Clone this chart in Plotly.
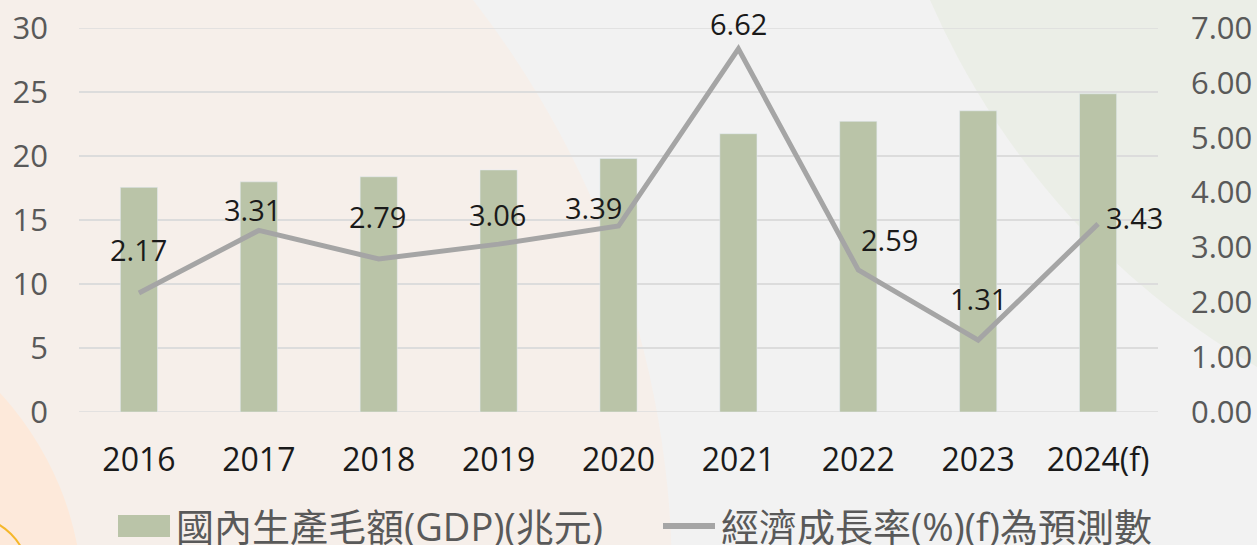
import plotly.graph_objects as go

# ---- data ----
years = ["2016", "2017", "2018", "2019", "2020", "2021", "2022", "2023", "2024(f)"]
gdp = [17.55, 17.98, 18.38, 18.91, 19.80, 21.74, 22.71, 23.53, 24.86]
growth = [2.17, 3.31, 2.79, 3.06, 3.39, 6.62, 2.59, 1.31, 3.43]
growth_labels = ["2.17", "3.31", "2.79", "3.06", "3.39", "6.62", "2.59", "1.31", "3.43"]
left_ticks = [0, 5, 10, 15, 20, 25, 30]
right_ticks = [0, 1, 2, 3, 4, 5, 6, 7]
bar_name = "國內生產毛額(GDP)(兆元)"
line_name = "經濟成長率(%)(f)為預測數"

# ---- style ----
W, H = 1257, 545
ML, MR, MT, MB = 79, 99, 28, 133
PW, PH = W - ML - MR, H - MT - MB
FONT = "Open Sans, Noto Sans CJK TC, sans-serif"
BAR_COLOR = "#BAC4A8"
LINE_COLOR = "#A5A5A5"
GRID_COLOR = "#DCDCDC"
label_dx = [0, -6, -1, -1, -25, 0, 31, 0, 36]
label_dy = [43, 21, 42, 30, 19, 25, 30, 42, 6]


def px(x):
    return (x - ML) / PW


def py(y):
    return (H - MB - y) / PH


def circle(cx, cy, r, fill=None, line=None, lw=0):
    return dict(type="circle", xref="paper", yref="paper", layer="below",
                x0=px(cx - r), x1=px(cx + r), y0=py(cy + r), y1=py(cy - r),
                fillcolor=fill if fill else "rgba(0,0,0,0)",
                line=dict(color=line if line else "rgba(0,0,0,0)", width=lw))


fig = go.Figure()
fig.add_trace(go.Bar(x=years, y=gdp, name=bar_name, marker_color=BAR_COLOR,
                     width=0.31, yaxis="y", showlegend=False))
fig.add_trace(go.Scatter(x=years, y=growth, name=line_name, mode="lines",
                         line=dict(color=LINE_COLOR, width=5), yaxis="y2",
                         showlegend=False))

annotations = []
for i, v in enumerate(growth):
    annotations.append(dict(x=i, y=v, xref="x", yref="y2", text=growth_labels[i],
                            showarrow=False, xshift=label_dx[i], yshift=label_dy[i],
                            font=dict(family=FONT, size=29, color="#1A1A1A")))

# custom legend
leg_y = 526
annotations.append(dict(x=px(174), y=py(leg_y), xref="paper", yref="paper",
                        text=bar_name, showarrow=False, xanchor="left", yanchor="middle",
                        font=dict(family=FONT, size=38, color="#595959")))
annotations.append(dict(x=px(719), y=py(leg_y), xref="paper", yref="paper",
                        text=line_name, showarrow=False, xanchor="left", yanchor="middle",
                        font=dict(family=FONT, size=38, color="#595959")))

shapes = [
    circle(-273, 580, 945, fill="#F6EFEA"),
    circle(1651, -313, 786, fill="#EBEEE7"),
    circle(-229, 605, 312, fill="#FDE9DA"),
    circle(-30, 575, 58, line="#F5B72A", lw=2),
    dict(type="rect", xref="paper", yref="paper", x0=px(118), x1=px(170),
         y0=py(537), y1=py(515), fillcolor=BAR_COLOR, line=dict(width=0)),
    dict(type="line", xref="paper", yref="paper", x0=px(663), x1=px(715),
         y0=py(leg_y), y1=py(leg_y), line=dict(color=LINE_COLOR, width=6)),
]
# gridlines at the two ends of the left axis (plotly omits grid at range edges)
for t in (left_ticks[0], left_ticks[-1]):
    shapes.append(dict(type="line", xref="paper", yref="y", x0=0, x1=1, y0=t, y1=t,
                       layer="below", line=dict(color=GRID_COLOR, width=1.5)))

fig.update_layout(
    width=W, height=H,
    margin=dict(l=ML, r=MR, t=MT, b=MB, pad=0, autoexpand=False),
    paper_bgcolor="#F2F2F2",
    plot_bgcolor="rgba(0,0,0,0)",
    font=dict(family=FONT),
    showlegend=False,
    shapes=shapes,
    annotations=annotations,
    xaxis=dict(type="category", range=[-0.5, len(years) - 0.5], showgrid=False,
               zeroline=False, showline=False, automargin=False,
               ticks="", tickfont=dict(family=FONT, size=32, color="#1A1A1A"),
               ticklabelstandoff=26),
    yaxis=dict(range=[0, 30], tickvals=left_ticks, showgrid=True, automargin=False,
               gridcolor=GRID_COLOR, gridwidth=1.5, zeroline=False, showline=False,
               ticks="", tickfont=dict(family=FONT, size=31, color="#595959"),
               ticklabelstandoff=30),
    yaxis2=dict(range=[0, 7], tickvals=right_ticks, tickformat=".2f", overlaying="y",
                side="right", showgrid=False, zeroline=False, showline=False,
                automargin=False,
                ticks="", tickfont=dict(family=FONT, size=31, color="#595959"),
                ticklabelstandoff=32),
)

fig.write_html("out.html", config={"displayModeBar": False},
               post_script="document.body.style.margin='0';")
